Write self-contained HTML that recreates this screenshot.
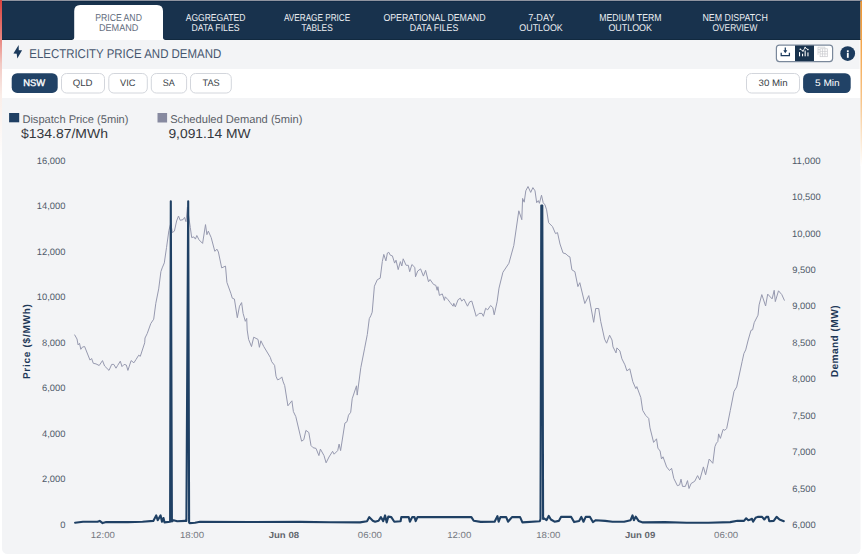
<!DOCTYPE html>
<html><head><meta charset="utf-8">
<style>
html,body{margin:0;padding:0}
body{width:862px;height:554px;position:relative;overflow:hidden;background:#fff;font-family:"Liberation Sans",sans-serif}
svg{position:absolute;left:0;top:0}
svg text{font-family:"Liberation Sans",sans-serif;text-rendering:geometricPrecision}
</style></head><body>
<svg width="862" height="554" viewBox="0 0 862 554">
  <defs>
    <linearGradient id="rg" x1="0" y1="0" x2="0" y2="1">
      <stop offset="0" stop-color="#d8423e"/><stop offset="0.25" stop-color="#e98882"/><stop offset="0.4" stop-color="#f2c9c3"/><stop offset="0.6" stop-color="#faeee9"/><stop offset="1" stop-color="#ffffff"/>
    </linearGradient>
    <linearGradient id="og" x1="0" y1="0" x2="0" y2="1">
      <stop offset="0" stop-color="#f0952e"/><stop offset="0.3" stop-color="#f4a850"/><stop offset="0.6" stop-color="#f7c488"/><stop offset="1" stop-color="#ffffff"/>
    </linearGradient>
  </defs>
  <rect x="0" y="0" width="862" height="1" fill="#8f94a0"/>
  <rect x="0" y="1" width="860.5" height="39" fill="#18324d"/>
  <rect x="0" y="39" width="860.5" height="1" fill="#11293f"/>
  <rect x="0" y="1" width="860.5" height="1" fill="#122b47"/>
  <path d="M71.5,40 Q74.2,40 74.2,37.3 V11 Q74.2,5 80.2,5 H157 Q163,5 163,11 V37.3 Q163,40 165.7,40 Z" fill="#fff"/>
  <rect x="2" y="40" width="857.6" height="29" fill="#f3f4f6"/>
  <rect x="2" y="98" width="858.5" height="456" rx="5.5" fill="#f3f4f6"/>
  <rect x="2" y="98" width="858.5" height="20" fill="#f3f4f6"/>
  <rect x="0" y="0" width="2" height="160" fill="url(#rg)"/>
  <rect x="860.5" y="1" width="1.5" height="165" fill="url(#og)"/>
  <path d="M18.65,44.9 L13.4,53.55 L16.7,53.7 L17.3,58.6 L22.1,50.3 L18.8,50.3 Z" fill="#1c3a5c"/>
  <!-- buttons -->
  <g stroke="#d3d6dc" stroke-width="1" fill="#fff">
    <rect x="61.5" y="73.5" width="43" height="19.5" rx="5"/>
    <rect x="108.8" y="73.5" width="38.5" height="19.5" rx="5"/>
    <rect x="151.3" y="73.5" width="35.3" height="19.5" rx="5"/>
    <rect x="190.5" y="73.5" width="40.8" height="19.5" rx="5"/>
    <rect x="746.5" y="73.5" width="53" height="19.5" rx="5"/>
  </g>
  <rect x="11.7" y="73.2" width="46" height="19.7" rx="5.5" fill="#214266"/>
  <rect x="803.1" y="73.2" width="47.6" height="19.9" rx="5.5" fill="#214266"/>
  <!-- icon group -->
  <rect x="776.4" y="45.1" width="56.2" height="16.5" rx="3" fill="#fff" stroke="#7a889b" stroke-width="1.2"/>
  <rect x="795" y="45.5" width="19" height="15.5" fill="#18324d"/>
  <g stroke="#1c3b5e" stroke-width="1.25" fill="none">
    <path d="M785.3,47.5 V52"/>
    <path d="M781.2,52.8 V55.6 H789.4 V52.8"/>
  </g>
  <path d="M783.3,50.3 L787.3,50.3 L785.3,53.2 Z" fill="#1c3b5e"/>
  <g fill="#fff">
    <rect x="799.0" y="52.1" width="1.1" height="4.2"/>
    <rect x="802.0" y="53.7" width="1.1" height="2.6"/>
    <rect x="804.6" y="50.5" width="1.1" height="5.8"/>
    <rect x="807.4" y="52.4" width="1.1" height="3.9"/>
    <circle cx="800.3" cy="49.3" r="0.8"/><circle cx="803" cy="51" r="0.8"/><circle cx="805.1" cy="47.6" r="0.8"/><circle cx="807.9" cy="49.6" r="0.8"/>
  </g>
  <path d="M800.3,49.3 L803,51 L805.1,47.6 L807.9,49.6" stroke="#fff" stroke-width="0.8" fill="none"/>
  <g stroke="#c9cace" stroke-width="0.7" fill="none">
    <path d="M818,54.9 V47.2 H824.9 V48.6"/>
    <rect x="820.1" y="48.8" width="7.2" height="7.9" fill="#fff"/>
    <path d="M820.1,51.4 H827.3 M820.1,53.9 H827.3 M822.5,48.8 V56.7 M824.9,48.8 V56.7"/>
    <path d="M818,49.6 H820.1 M818,52.2 H820.1"/>
  </g>
  <circle cx="847.7" cy="53.6" r="7.4" fill="#1c3b5e"/>
  <rect x="846.9" y="50.3" width="1.8" height="1.8" fill="#fff"/>
  <rect x="846.9" y="52.8" width="1.8" height="5" fill="#fff"/>
  <!-- legend squares -->
  <rect x="9.1" y="113" width="10.1" height="9.3" fill="#1f3f63"/>
  <rect x="157.5" y="113" width="9.6" height="9.5" fill="#878aa0"/>
  <path d="M74.5,334.6 L77.0,339.0 L78.1,344.9 L79.5,343.3 L80.8,349.3 L82.4,347.1 L84.6,346.5 L90.0,360.1 L91.6,358.5 L93.3,363.3 L96.0,363.9 L99.2,365.5 L102.5,360.6 L104.6,366.0 L109.0,370.4 L111.7,364.4 L113.8,364.4 L116.0,368.2 L117.6,365.5 L120.3,361.2 L122.0,366.6 L124.1,364.4 L126.3,365.0 L127.9,370.4 L131.1,360.6 L133.9,362.8 L136.0,359.5 L138.7,355.2 L140.3,356.3 L144.7,342.8 L145.0,338.0 L147.2,333.6 L150.8,323.5 L153.7,319.2 L155.8,303.3 L158.7,288.9 L160.9,271.6 L162.2,267.9 L164.3,262.9 L166.5,247.7 L168.9,230.4 L170.8,223.2 L172.3,232.6 L174.4,231.1 L176.6,221.0 L178.5,216.0 L180.2,220.3 L183.1,219.6 L184.5,217.4 L186.0,221.7 L187.4,207.3 L190.3,227.5 L191.7,237.6 L193.9,236.9 L195.4,239.1 L196.8,235.5 L199.0,239.8 L202.6,243.4 L205.5,224.6 L206.9,234.7 L208.3,231.1 L211.2,237.6 L214.8,251.3 L217.0,249.2 L218.4,252.0 L221.7,267.9 L225.5,266.1 L226.9,282.4 L230.8,293.2 L232.3,298.2 L234.4,299.0 L237.3,317.7 L239.5,306.2 L241.6,302.6 L243.1,313.4 L245.3,321.3 L246.7,318.4 L247.2,330.0 L248.6,339.4 L251.5,346.6 L253.7,337.2 L258.0,339.4 L259.4,347.3 L260.9,340.8 L263.8,346.6 L270.3,357.4 L271.7,361.7 L274.6,365.4 L276.0,376.2 L277.5,379.8 L279.6,379.1 L281.8,376.9 L283.2,381.9 L284.7,385.6 L287.9,405.8 L291.9,400.8 L293.4,411.6 L295.8,416.6 L301.6,441.2 L303.8,439.7 L305.9,430.4 L308.8,432.5 L311.0,445.5 L313.1,447.7 L316.0,448.4 L318.9,455.6 L320.4,449.1 L324.0,455.6 L326.1,462.8 L329.0,457.0 L332.6,451.3 L334.1,454.2 L337.7,450.6 L339.1,444.1 L340.6,450.6 L344.9,423.1 L347.0,421.7 L348.5,415.2 L350.7,412.3 L352.2,398.8 L356.5,385.8 L357.2,395.1 L360.8,367.7 L364.5,348.9 L367.3,334.5 L369.3,318.6 L370.8,315.8 L372.2,312.2 L374.4,286.2 L377.3,279.7 L380.2,278.2 L382.3,261.6 L383.8,254.4 L385.9,260.9 L387.4,253.0 L388.8,252.3 L390.3,255.2 L392.4,255.9 L394.6,263.1 L396.0,260.2 L398.2,269.6 L400.4,261.6 L401.8,266.0 L403.2,258.8 L406.1,265.3 L408.3,265.3 L409.7,271.7 L411.9,264.5 L414.8,267.4 L415.5,276.8 L417.7,271.0 L420.6,268.9 L423.4,276.1 L425.6,270.3 L428.5,281.8 L430.0,279.5 L433.6,284.5 L435.8,285.3 L437.2,290.3 L437.9,286.7 L439.4,295.4 L442.3,293.9 L444.4,300.4 L445.2,296.8 L448.0,299.7 L450.2,302.6 L453.1,306.2 L453.8,303.3 L455.3,306.9 L458.1,299.7 L460.3,298.2 L461.7,301.1 L463.9,299.0 L467.5,306.2 L469.7,301.8 L471.8,301.1 L476.2,316.3 L479.1,313.4 L481.9,313.4 L483.4,316.3 L485.6,308.3 L487.7,309.8 L490.6,305.5 L492.8,307.6 L494.2,314.8 L497.1,301.8 L499.0,288.1 L502.9,272.3 L508.9,263.3 L513.8,245.5 L518.8,210.8 L521.8,219.7 L522.6,198.4 L524.2,202.2 L525.8,190.8 L528.0,186.5 L530.7,192.4 L532.9,187.6 L535.0,190.8 L536.7,202.7 L538.3,200.6 L539.4,203.3 L541.5,195.2 L543.2,202.7 L545.0,204.9 L546.6,209.8 L548.6,222.7 L552.5,226.6 L555.5,233.6 L557.5,232.6 L560.0,244.0 L563.0,252.9 L566.0,253.9 L567.9,255.9 L569.9,256.9 L571.9,269.8 L574.9,271.7 L577.9,286.6 L579.8,282.7 L584.8,303.5 L588.8,295.6 L593.7,322.3 L595.7,308.5 L598.7,308.5 L600.7,321.3 L604.6,339.2 L606.6,343.2 L609.6,335.2 L612.0,340.0 L613.0,346.9 L616.0,352.9 L616.9,347.9 L619.9,350.9 L621.9,358.8 L624.9,364.8 L626.9,370.8 L629.8,368.8 L632.8,381.7 L635.8,388.6 L636.8,386.6 L640.8,397.5 L642.7,410.4 L645.7,415.4 L648.7,418.4 L650.0,427.9 L653.6,442.4 L656.5,438.8 L657.9,448.1 L660.1,451.0 L661.5,459.0 L663.0,456.8 L666.6,466.9 L669.5,470.5 L671.6,468.3 L673.8,478.4 L677.4,485.7 L679.6,484.9 L681.0,479.2 L682.5,486.4 L685.4,486.4 L687.5,480.6 L689.0,488.5 L691.1,483.5 L694.7,481.3 L697.6,475.6 L699.8,479.9 L703.4,466.9 L705.6,474.8 L709.2,459.0 L712.8,463.3 L714.9,446.7 L716.4,443.1 L717.8,441.6 L718.6,433.9 L720.4,438.4 L723.1,429.4 L724.9,430.3 L726.7,428.4 L730.3,410.4 L734.0,391.4 L736.7,386.9 L742.1,361.7 L743.9,353.5 L745.7,349.9 L748.2,340.0 L751.0,330.3 L752.6,329.8 L754.2,322.7 L758.0,315.2 L759.1,304.9 L761.8,294.6 L765.6,306.0 L767.7,294.1 L772.1,298.9 L774.2,290.3 L775.3,301.6 L778.5,290.8 L781.8,294.6 L784.5,300.6" fill="none" stroke="#9699af" stroke-width="1" stroke-linejoin="round"/>
  <path d="M75.1,522.7 L83.0,521.7 L97.5,521.7 L99.7,520.9 L102.6,523.1 L106.2,522.1 L128.0,522.1 L142.5,521.7 L153.3,520.9 L156.2,515.4 L157.7,520.2 L160.6,515.4 L162.0,521.7 L163.5,518.0 L164.5,522.4 L170.1,521.7 L170.8,201.3 L171.9,521.5 L173.6,520.2 L177.2,521.2 L185.2,520.9 L186.4,521.0 L188.2,201.3 L189.1,522.5 L189.6,523.1 L195.0,522.7 L200.0,521.7 L250.0,522.0 L300.0,521.9 L330.0,522.3 L360.0,522.4 L367.0,521.2 L369.3,517.1 L372.8,520.8 L375.1,521.7 L378.6,520.8 L380.9,517.1 L383.2,521.2 L385.1,515.4 L386.7,522.4 L388.3,516.6 L391.3,517.1 L394.3,521.7 L400.6,521.2 L401.3,517.1 L408.7,517.1 L409.9,521.7 L412.2,517.1 L414.5,517.1 L415.7,521.2 L417.5,517.1 L471.4,517.1 L473.7,520.8 L480.6,521.9 L494.6,521.7 L497.4,516.1 L498.7,521.7 L500.4,517.1 L506.2,517.1 L508.0,521.7 L512.0,517.1 L520.1,517.1 L522.4,522.4 L539.8,521.2 L540.5,519.0 L541.3,205.5 L542.3,205.5 L543.1,519.0 L543.6,518.0 L546.5,520.2 L548.7,515.9 L550.9,519.5 L554.5,521.7 L558.8,520.9 L561.0,516.9 L571.2,516.9 L574.1,522.1 L579.1,520.9 L581.3,516.9 L583.5,521.7 L585.7,516.9 L590.0,516.9 L592.9,522.1 L595.8,520.2 L605.2,520.9 L612.5,521.7 L624.1,521.7 L630.6,520.2 L632.5,515.4 L633.9,520.2 L635.7,516.6 L638.6,520.9 L642.9,522.4 L665.0,522.1 L686.7,522.7 L708.5,522.7 L730.2,522.1 L737.5,520.7 L744.0,520.9 L746.2,518.3 L748.3,520.2 L750.5,519.5 L752.0,518.8 L753.1,521.7 L755.6,517.8 L757.8,516.9 L762.1,516.9 L764.3,519.5 L766.4,516.9 L768.2,516.9 L769.3,521.2 L773.7,520.9 L776.6,516.9 L779.5,519.5 L783.8,521.2" fill="none" stroke="#1f4064" stroke-width="2.1" stroke-linejoin="round" stroke-linecap="round"/>
<text x="95.20" y="20.90" font-size="10.03" textLength="46.71" lengthAdjust="spacingAndGlyphs" fill="#646e80">PRICE AND</text>
<text x="98.95" y="30.90" font-size="9.74" textLength="39.48" lengthAdjust="spacingAndGlyphs" fill="#646e80">DEMAND</text>
<text x="185.68" y="20.90" font-size="10.03" textLength="59.72" lengthAdjust="spacingAndGlyphs" fill="#eceff3">AGGREGATED</text>
<text x="191.51" y="30.90" font-size="9.74" textLength="47.97" lengthAdjust="spacingAndGlyphs" fill="#eceff3">DATA FILES</text>
<text x="283.98" y="20.90" font-size="10.03" textLength="66.26" lengthAdjust="spacingAndGlyphs" fill="#eceff3">AVERAGE PRICE</text>
<text x="301.52" y="30.90" font-size="9.74" textLength="31.16" lengthAdjust="spacingAndGlyphs" fill="#eceff3">TABLES</text>
<text x="383.39" y="20.90" font-size="10.03" textLength="102.13" lengthAdjust="spacingAndGlyphs" fill="#eceff3">OPERATIONAL DEMAND</text>
<text x="409.81" y="30.90" font-size="9.74" textLength="48.48" lengthAdjust="spacingAndGlyphs" fill="#eceff3">DATA FILES</text>
<text x="528.24" y="20.90" font-size="10.03" textLength="26.25" lengthAdjust="spacingAndGlyphs" fill="#eceff3">7-DAY</text>
<text x="519.33" y="30.90" font-size="9.74" textLength="43.37" lengthAdjust="spacingAndGlyphs" fill="#eceff3">OUTLOOK</text>
<text x="599.29" y="20.90" font-size="10.03" textLength="62.22" lengthAdjust="spacingAndGlyphs" fill="#eceff3">MEDIUM TERM</text>
<text x="608.38" y="30.90" font-size="9.74" textLength="43.62" lengthAdjust="spacingAndGlyphs" fill="#eceff3">OUTLOOK</text>
<text x="702.49" y="20.90" font-size="10.03" textLength="65.31" lengthAdjust="spacingAndGlyphs" fill="#eceff3">NEM DISPATCH</text>
<text x="712.61" y="30.90" font-size="9.74" textLength="44.62" lengthAdjust="spacingAndGlyphs" fill="#eceff3">OVERVIEW</text>
<text x="29.26" y="58.30" font-size="12.79" textLength="191.98" lengthAdjust="spacingAndGlyphs" fill="#46566e">ELECTRICITY PRICE AND DEMAND</text>
<text x="23.13" y="85.70" font-size="9.45" textLength="21.90" lengthAdjust="spacingAndGlyphs" fill="#ffffff" stroke="#ffffff" stroke-width="0.35">NSW</text>
<text x="72.74" y="85.70" font-size="9.45" textLength="19.82" lengthAdjust="spacingAndGlyphs" fill="#3a3f48">QLD</text>
<text x="120.06" y="85.70" font-size="9.45" textLength="15.49" lengthAdjust="spacingAndGlyphs" fill="#3a3f48">VIC</text>
<text x="162.69" y="85.70" font-size="9.45" textLength="12.03" lengthAdjust="spacingAndGlyphs" fill="#3a3f48">SA</text>
<text x="202.50" y="85.70" font-size="9.45" textLength="17.20" lengthAdjust="spacingAndGlyphs" fill="#3a3f48">TAS</text>
<text x="758.53" y="85.90" font-size="9.30" textLength="29.10" lengthAdjust="spacingAndGlyphs" fill="#3a3f48">30 Min</text>
<text x="815.00" y="85.90" font-size="9.30" textLength="24.66" lengthAdjust="spacingAndGlyphs" fill="#ffffff">5 Min</text>
<text x="22.39" y="122.60" font-size="11.19" textLength="106.10" lengthAdjust="spacingAndGlyphs" fill="#5a5f68">Dispatch Price (5min)</text>
<text x="21.05" y="137.70" font-size="13.08" textLength="86.86" lengthAdjust="spacingAndGlyphs" fill="#33373d">$134.87/MWh</text>
<text x="170.20" y="122.70" font-size="11.34" textLength="132.19" lengthAdjust="spacingAndGlyphs" fill="#5a5f68">Scheduled Demand (5min)</text>
<text x="168.45" y="137.70" font-size="13.08" textLength="82.20" lengthAdjust="spacingAndGlyphs" fill="#33373d">9,091.14 MW</text>
<text x="36.84" y="163.50" font-size="9.30" textLength="28.63" lengthAdjust="spacingAndGlyphs" fill="#4f5a69">16,000</text>
<text x="36.84" y="209.00" font-size="9.30" textLength="28.63" lengthAdjust="spacingAndGlyphs" fill="#4f5a69">14,000</text>
<text x="36.84" y="254.50" font-size="9.30" textLength="28.63" lengthAdjust="spacingAndGlyphs" fill="#4f5a69">12,000</text>
<text x="36.84" y="300.00" font-size="9.30" textLength="28.63" lengthAdjust="spacingAndGlyphs" fill="#4f5a69">10,000</text>
<text x="42.04" y="345.50" font-size="9.30" textLength="23.42" lengthAdjust="spacingAndGlyphs" fill="#4f5a69">8,000</text>
<text x="42.04" y="391.00" font-size="9.30" textLength="23.42" lengthAdjust="spacingAndGlyphs" fill="#4f5a69">6,000</text>
<text x="42.04" y="436.50" font-size="9.30" textLength="23.42" lengthAdjust="spacingAndGlyphs" fill="#4f5a69">4,000</text>
<text x="42.04" y="482.00" font-size="9.30" textLength="23.42" lengthAdjust="spacingAndGlyphs" fill="#4f5a69">2,000</text>
<text x="60.26" y="527.50" font-size="9.30" textLength="5.21" lengthAdjust="spacingAndGlyphs" fill="#4f5a69">0</text>
<text x="791.99" y="163.60" font-size="9.30" textLength="28.63" lengthAdjust="spacingAndGlyphs" fill="#4f5a69">11,000</text>
<text x="791.99" y="200.05" font-size="9.30" textLength="28.63" lengthAdjust="spacingAndGlyphs" fill="#4f5a69">10,500</text>
<text x="791.99" y="236.50" font-size="9.30" textLength="28.63" lengthAdjust="spacingAndGlyphs" fill="#4f5a69">10,000</text>
<text x="792.26" y="272.95" font-size="9.30" textLength="23.42" lengthAdjust="spacingAndGlyphs" fill="#4f5a69">9,500</text>
<text x="792.26" y="309.40" font-size="9.30" textLength="23.42" lengthAdjust="spacingAndGlyphs" fill="#4f5a69">9,000</text>
<text x="792.29" y="345.85" font-size="9.30" textLength="23.42" lengthAdjust="spacingAndGlyphs" fill="#4f5a69">8,500</text>
<text x="792.29" y="382.30" font-size="9.30" textLength="23.42" lengthAdjust="spacingAndGlyphs" fill="#4f5a69">8,000</text>
<text x="792.22" y="418.75" font-size="9.30" textLength="23.42" lengthAdjust="spacingAndGlyphs" fill="#4f5a69">7,500</text>
<text x="792.22" y="455.20" font-size="9.30" textLength="23.42" lengthAdjust="spacingAndGlyphs" fill="#4f5a69">7,000</text>
<text x="792.22" y="491.65" font-size="9.30" textLength="23.42" lengthAdjust="spacingAndGlyphs" fill="#4f5a69">6,500</text>
<text x="792.22" y="528.10" font-size="9.30" textLength="23.42" lengthAdjust="spacingAndGlyphs" fill="#4f5a69">6,000</text>
<text x="90.77" y="537.90" font-size="8.87" textLength="24.11" lengthAdjust="spacingAndGlyphs" fill="#73777f">12:00</text>
<text x="179.97" y="537.90" font-size="8.87" textLength="24.11" lengthAdjust="spacingAndGlyphs" fill="#73777f">18:00</text>
<text x="268.71" y="537.90" font-size="8.87" textLength="30.34" lengthAdjust="spacingAndGlyphs" fill="#62666d" font-weight="bold">Jun 08</text>
<text x="357.84" y="537.90" font-size="8.87" textLength="24.11" lengthAdjust="spacingAndGlyphs" fill="#73777f">06:00</text>
<text x="447.17" y="537.90" font-size="8.87" textLength="24.11" lengthAdjust="spacingAndGlyphs" fill="#73777f">12:00</text>
<text x="536.27" y="537.90" font-size="8.87" textLength="24.11" lengthAdjust="spacingAndGlyphs" fill="#73777f">18:00</text>
<text x="624.94" y="537.90" font-size="8.87" textLength="30.34" lengthAdjust="spacingAndGlyphs" fill="#62666d" font-weight="bold">Jun 09</text>
<text x="714.04" y="537.90" font-size="8.87" textLength="24.11" lengthAdjust="spacingAndGlyphs" fill="#73777f">06:00</text>
<text transform="translate(29.60,378.30) rotate(-90)" x="-0.76" y="0" font-size="10.03" textLength="74.92" lengthAdjust="spacing" fill="#1e3858" font-weight="bold">Price ($/MWh)</text>
<text transform="translate(838.00,376.60) rotate(-90)" x="-0.72" y="0" font-size="10.17" textLength="71.86" lengthAdjust="spacing" fill="#1e3858" font-weight="bold">Demand (MW)</text>
</svg>
</body></html>
